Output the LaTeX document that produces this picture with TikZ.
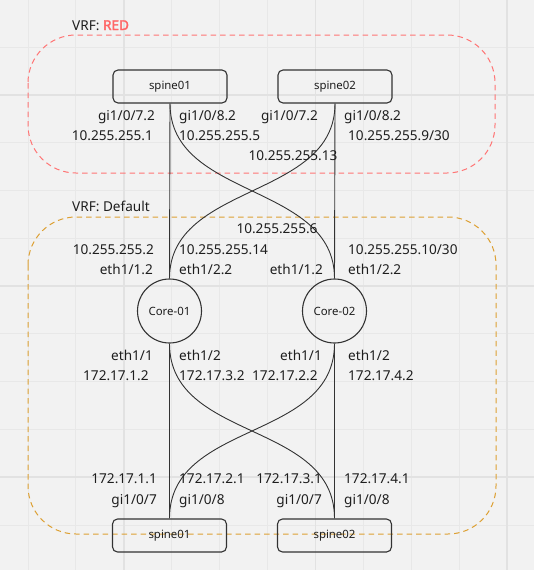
\documentclass[tikz,border=0pt]{standalone}
\usepackage{fontspec}
\setmainfont{Noto Sans}
\newfontfamily\redboldfont{Noto Sans}[FakeBold=2.2]
\definecolor{bg}{HTML}{F2F2F2}
\definecolor{gridminor}{HTML}{E8E8E8}
\definecolor{gridmajor}{HTML}{E2E2E2}
\definecolor{redvrf}{HTML}{FF7575}
\definecolor{redtxt}{HTML}{FF6666}
\definecolor{orangevrf}{HTML}{DDA033}
\definecolor{txt}{HTML}{1E1E1E}
\definecolor{wire}{HTML}{333333}
\tikzset{
  lbl/.style={inner sep=0pt, text=txt, font=\fontsize{13.6}{16}\selectfont},
  devbox/.style={draw=wire, line width=1.1pt, rounded corners=5pt, minimum width=114pt, minimum height=33pt, inner sep=0pt, text=txt, font=\fontsize{11.4}{13}\selectfont},
  corenode/.style={draw=wire, line width=1.1pt, circle, minimum size=64pt, inner sep=0pt, text=txt, font=\fontsize{11.4}{13}\selectfont},
  wirestyle/.style={draw=wire, line width=0.9pt},
  vrfbox/.style={line width=1pt, dash pattern=on 5.5pt off 4pt, rounded corners=48pt}
}
\begin{document}
\begin{tikzpicture}[x=1pt,y=-1pt]
\useasboundingbox (0,0) rectangle (534,570);
\fill[bg] (0,0) rectangle (534,570);
% grid
\foreach \n in {0,...,10} {
  \draw[gridminor, line width=1pt] ({28+47.9*\n},0) -- ({28+47.9*\n},570);
}
\foreach \n in {-1,...,11} {
  \draw[gridminor, line width=1pt] (0,{47+47.8*\n}) -- (534,{47+47.8*\n});
}
\foreach \n in {2,6,10} {
  \draw[gridmajor, line width=1.6pt] ({28+47.9*\n},0) -- ({28+47.9*\n},570);
}
\foreach \n in {1,5,9} {
  \draw[gridmajor, line width=1.6pt] (0,{47+47.8*\n}) -- (534,{47+47.8*\n});
}
% VRF areas
\draw[vrfbox, draw=redvrf] (28,35) rectangle (495,173);
\draw[vrfbox, draw=orangevrf] (28,217) rectangle (496,534);
\node[lbl, anchor=base west] (vrfred) at (72,30) {VRF: \textcolor{redtxt}{\redboldfont RED}};
\node[lbl, anchor=base west] (vrfdef) at (72,211.7) {VRF: Default};
% devices
\node[devbox] (s1t) at (170,86.5) {spine01};
\node[devbox] (s2t) at (335,86.5) {spine02};
\node[corenode] (c1) at (169.5,311) {Core-01};
\node[corenode] (c2) at (334.5,311) {Core-02};
\node[devbox] (s1b) at (169.5,535.5) {spine01};
\node[devbox] (s2b) at (334.5,535.5) {spine02};
% links
\draw[wirestyle] (s1t.south) -- (c1.north);
\draw[wirestyle] (s2t.south) -- (c2.north);
\draw[wirestyle] (s1t.south) .. controls +(0,96) and +(0,-96) .. (c2.north);
\draw[wirestyle] (s2t.south) .. controls +(0,96) and +(0,-96) .. (c1.north);
\draw[wirestyle] (c1.south) -- (s1b.north);
\draw[wirestyle] (c2.south) -- (s2b.north);
\draw[wirestyle] (c1.south) .. controls +(0,98) and +(0,-98) .. (s2b.north);
\draw[wirestyle] (c2.south) .. controls +(0,98) and +(0,-98) .. (s1b.north);
% top labels
\node[lbl, anchor=base east] (t1) at (155,120) {gi1/0/7.2};
\node[lbl, anchor=base west] (t2) at (179,120) {gi1/0/8.2};
\node[lbl, anchor=base east] (t3) at (318,120) {gi1/0/7.2};
\node[lbl, anchor=base west] (t4) at (344,120) {gi1/0/8.2};
\node[lbl, anchor=base east] (t5) at (153,140) {10.255.255.1};
\node[lbl, anchor=base west] (t6) at (179,140) {10.255.255.5};
\node[lbl, anchor=base west] (t7) at (348,140) {10.255.255.9/30};
\node[lbl, anchor=base] (t8) at (293,160.5) {10.255.255.13};
% middle labels
\node[lbl, anchor=base] (m1) at (277,233) {10.255.255.6};
\node[lbl, anchor=base east] (m2) at (154,254) {10.255.255.2};
\node[lbl, anchor=base west] (m3) at (179,254) {10.255.255.14};
\node[lbl, anchor=base west] (m4) at (348,254) {10.255.255.10/30};
\node[lbl, anchor=base east] (m5) at (153,274) {eth1/1.2};
\node[lbl, anchor=base west] (m6) at (179,274) {eth1/2.2};
\node[lbl, anchor=base east] (m7) at (323,274) {eth1/1.2};
\node[lbl, anchor=base west] (m8) at (348,274) {eth1/2.2};
\node[lbl, anchor=base east] (m9) at (153,360) {eth1/1};
\node[lbl, anchor=base west] (m10) at (179,360) {eth1/2};
\node[lbl, anchor=base east] (m11) at (322,360) {eth1/1};
\node[lbl, anchor=base west] (m12) at (348,360) {eth1/2};
\node[lbl, anchor=base west] (m13) at (83,380) {172.17.1.2};
\node[lbl, anchor=base west] (m14) at (179,380) {172.17.3.2};
\node[lbl, anchor=base west] (m15) at (252,380) {172.17.2.2};
\node[lbl, anchor=base west] (m16) at (348,380) {172.17.4.2};
% bottom labels
\node[lbl, anchor=base east] (b1) at (157,483) {172.17.1.1};
\node[lbl, anchor=base west] (b2) at (179,483) {172.17.2.1};
\node[lbl, anchor=base east] (b3) at (322,483) {172.17.3.1};
\node[lbl, anchor=base west] (b4) at (344,483) {172.17.4.1};
\node[lbl, anchor=base east] (b5) at (157,504) {gi1/0/7};
\node[lbl, anchor=base west] (b6) at (179,504) {gi1/0/8};
\node[lbl, anchor=base east] (b7) at (322,504) {gi1/0/7};
\node[lbl, anchor=base west] (b8) at (344,504) {gi1/0/8};
\end{tikzpicture}
\end{document}
